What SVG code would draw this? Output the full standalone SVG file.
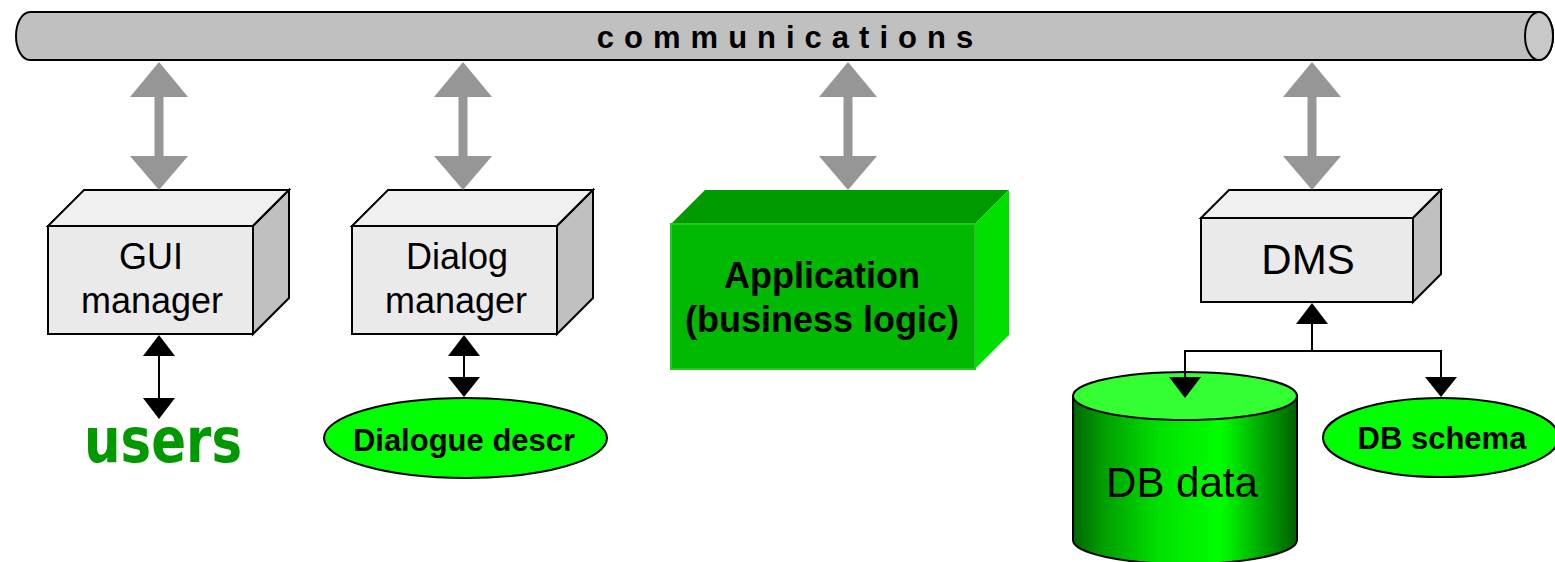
<svg xmlns="http://www.w3.org/2000/svg" width="1555" height="562" viewBox="0 0 1555 562">
  <style>
    .frontg { fill: #eaeaea; stroke: #000; stroke-width: 2; stroke-linejoin: miter; }
    .topg { fill: #f0f0f0; stroke: #000; stroke-width: 2; }
    .sideg { fill: #c0c0c0; stroke: #000; stroke-width: 2; }
    .lbl { font-family: "Liberation Sans", Arial, sans-serif; fill: #000; text-anchor: middle; }
    .bold { font-weight: bold; }
    .gray { fill: #969696; }
    .conn { stroke: #000; stroke-width: 2; fill: none; }
    .head { fill: #000; }
    .oval { fill: #00ff00; stroke: #000; stroke-width: 2; }
  </style>
  <defs>
    <linearGradient id="cylGrad" x1="0" y1="0" x2="1" y2="0">
      <stop offset="0" stop-color="#006400"/>
      <stop offset="0.12" stop-color="#009a00"/>
      <stop offset="0.38" stop-color="#00e000"/>
      <stop offset="0.66" stop-color="#00ff00"/>
      <stop offset="0.86" stop-color="#00a000"/>
      <stop offset="1" stop-color="#006000"/>
    </linearGradient>
  </defs>

  <g id="communications">
    <path d="M30,12 H1539 A14,24 0 0 1 1539,60 H30 A14,24 0 0 1 30,12 Z" fill="#c0c0c0" stroke="#000" stroke-width="2"/>
    <ellipse cx="1539" cy="36" rx="14" ry="24" fill="#c8c8c8" stroke="#000" stroke-width="2"/>
    <text class="lbl bold" x="790" y="48" font-size="31" letter-spacing="10">communications</text>
  </g>

  <g id="gui-manager">
    <polygon class="topg" points="48,226 84,190 289,190 253,226"/>
    <polygon class="sideg" points="253,226 289,190 289,298 253,334"/>
    <rect class="frontg" x="48" y="226" width="205" height="108"/>
    <text class="lbl" x="151" y="269" font-size="36">GUI</text>
    <text class="lbl" x="152" y="313" font-size="36">manager</text>
  </g>

  <g id="dialog-manager">
    <polygon class="topg" points="352,226 388,190 593,190 557,226"/>
    <polygon class="sideg" points="557,226 593,190 593,298 557,334"/>
    <rect class="frontg" x="352" y="226" width="205" height="108"/>
    <text class="lbl" x="457" y="269" font-size="36">Dialog</text>
    <text class="lbl" x="456" y="313" font-size="36">manager</text>
  </g>

  <g id="application">
    <polygon points="671,224 705,190 1009,190 975,224" fill="#009900"/>
    <polygon points="975,224 1009,190 1009,335 975,369" fill="#00e000"/>
    <rect x="671" y="224" width="304" height="145" fill="#00b900" stroke="#22c822" stroke-width="2"/>
    <text class="lbl bold" x="822" y="288" font-size="36">Application</text>
    <text class="lbl bold" x="822" y="332" font-size="36">(business logic)</text>
  </g>

  <g id="dms">
    <polygon class="topg" points="1201,218 1229,190 1441,190 1413,218"/>
    <polygon class="sideg" points="1413,218 1441,190 1441,274 1413,302"/>
    <rect class="frontg" x="1201" y="218" width="212" height="84"/>
    <text class="lbl" x="1308" y="274" font-size="42">DMS</text>
  </g>

  <g id="users">
    <text x="163" y="462" font-family="'DejaVu Sans', Verdana, sans-serif" font-weight="bold" font-size="62" fill="#009900" text-anchor="middle" textLength="158" lengthAdjust="spacingAndGlyphs">users</text>
  </g>

  <g id="dialogue-descr">
    <ellipse class="oval" cx="465.5" cy="438" rx="141.5" ry="40"/>
    <text class="lbl bold" x="464" y="451" font-size="31">Dialogue descr</text>
  </g>

  <g id="db-data">
    <path d="M1073,396 V540 A112,24 0 0 0 1297,540 V396 Z" fill="url(#cylGrad)" stroke="#000" stroke-width="2"/>
    <ellipse cx="1185" cy="396" rx="112" ry="24" fill="#33ff33" stroke="#000" stroke-width="2"/>
    <text class="lbl" x="1182" y="497" font-size="42">DB data</text>
  </g>

  <g id="db-schema">
    <ellipse class="oval" cx="1441" cy="437.5" rx="118" ry="39.5"/>
    <text class="lbl bold" x="1442" y="449" font-size="31">DB schema</text>
  </g>

  <g id="connectors">
    <polygon class="gray" points="159,62 188,97 163.5,97 163.5,156 188,156 159,190 130,156 154.5,156 154.5,97 130,97"/>
    <polygon class="gray" points="463,62 492,97 467.5,97 467.5,156 492,156 463,190 434,156 458.5,156 458.5,97 434,97"/>
    <polygon class="gray" points="848,62 877,97 852.5,97 852.5,156 877,156 848,190 819,156 843.5,156 843.5,97 819,97"/>
    <polygon class="gray" points="1312,62 1341,97 1316.5,97 1316.5,156 1341,156 1312,190 1283,156 1307.5,156 1307.5,97 1283,97"/>

    <line class="conn" x1="159" y1="355" x2="159" y2="399"/>
    <polygon class="head" points="159,335 175,356 143,356"/>
    <polygon class="head" points="143,398 175,398 159,419"/>

    <line class="conn" x1="464" y1="355" x2="464" y2="378"/>
    <polygon class="head" points="464,335 480,356 448,356"/>
    <polygon class="head" points="448,377 480,377 464,397"/>

    <polyline class="conn" points="1312,323 1312,351"/>
    <polyline class="conn" points="1185,378 1185,351 1441,351 1441,378"/>
    <polygon class="head" points="1312,303 1328,324 1296,324"/>
    <polygon class="head" points="1169,377 1201,377 1185,398"/>
    <polygon class="head" points="1425,377 1457,377 1441,397"/>
  </g>
</svg>
